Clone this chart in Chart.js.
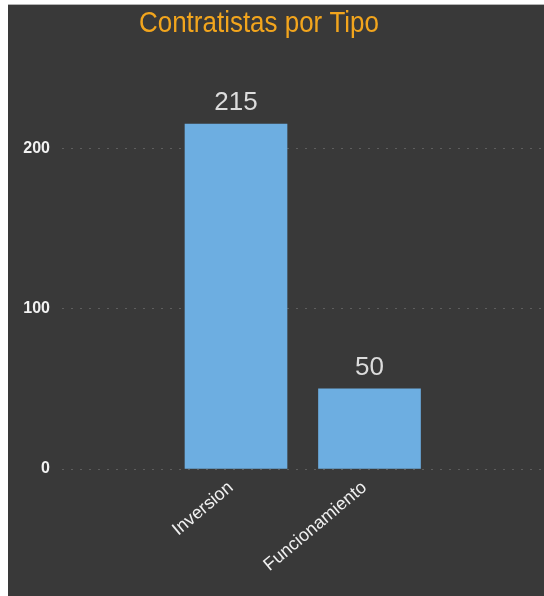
<!DOCTYPE html>
<html><head><meta charset="utf-8">
<script src="https://cdn.jsdelivr.net/npm/chart.js@4"></script>
<style>
html,body{margin:0;padding:0;background:#fff;}
#wrap{position:absolute;left:8px;top:4px;width:536px;height:592px;border-top:1px solid #b4b4b4;background:#393939;}
canvas{display:block;}
</style></head><body>
<div id="wrap"><canvas id="c" width="536" height="591" style="width:536px;height:591px"></canvas></div>
<script>
const chartTitle = 'Contratistas por Tipo';
const categories = ['Inversion', 'Funcionamiento'];
const values = [215, 50];
const yTicks = [0, 100, 200];

const FONT = '"Liberation Sans", Arial, sans-serif';

const titlePlugin = {
  id: 'titleText',
  afterDraw(chart) {
    const ctx = chart.ctx;
    ctx.save();
    ctx.font = '29px ' + FONT;
    ctx.fillStyle = '#f2a51d';
    ctx.textAlign = 'center';
    ctx.textBaseline = 'middle';
    const w = ctx.measureText(chartTitle).width;
    const sx = 240 / w;
    ctx.translate(251, 19);
    ctx.scale(sx, 1);
    ctx.fillText(chartTitle, 0, 0);
    ctx.restore();
  }
};

const valueLabels = {
  id: 'valueLabels',
  afterDatasetsDraw(chart) {
    const ctx = chart.ctx;
    const meta = chart.getDatasetMeta(0);
    ctx.save();
    ctx.font = '26px ' + FONT;
    ctx.fillStyle = '#dcdcdc';
    ctx.textAlign = 'center';
    ctx.textBaseline = 'alphabetic';
    meta.data.forEach((bar, i) => ctx.fillText(String(values[i]), bar.x, bar.y - 14));
    ctx.restore();
  }
};

new Chart(document.getElementById('c'), {
  type: 'bar',
  data: {
    datasets: [{
      data: values.map((v, i) => ({ x: i, y: v })),
      backgroundColor: '#6daee1',
      barThickness: 102
    }]
  },
  options: {
    responsive: false,
    animation: false,
    layout: { padding: { top: 63, left: 0, right: 0, bottom: 0 } },
    plugins: { legend: { display: false }, tooltip: { enabled: false }, title: { display: false } },
    scales: {
      x: {
        type: 'linear',
        offset: false,
        min: -1.3034,
        max: 2.3071,
        afterBuildTicks: s => { s.ticks = categories.map((c, i) => ({ value: i })); },
        afterFit: s => { s.height = 127; },
        grid: { display: false, drawTicks: false, offset: false },
        border: { display: false },
        ticks: {
          autoSkip: false, minRotation: 40, maxRotation: 40, padding: 8, labelOffset: -5,
          color: '#f0f0f0', font: { size: 18, family: FONT },
          callback: (v) => categories[v] ?? ''
        }
      },
      y: {
        min: 0,
        max: 250,
        afterBuildTicks: s => { s.ticks = yTicks.map(v => ({ value: v })); },
        afterFit: s => { s.width = 54; },
        grid: { color: '#5e5e5e', lineWidth: 1, drawTicks: false },
        border: { display: false, dash: [2, 7] },
        ticks: { padding: 12, color: '#f2f2f2', font: { size: 16, weight: 'bold', family: FONT } }
      }
    }
  },
  plugins: [titlePlugin, valueLabels]
});
</script>
</body></html>
